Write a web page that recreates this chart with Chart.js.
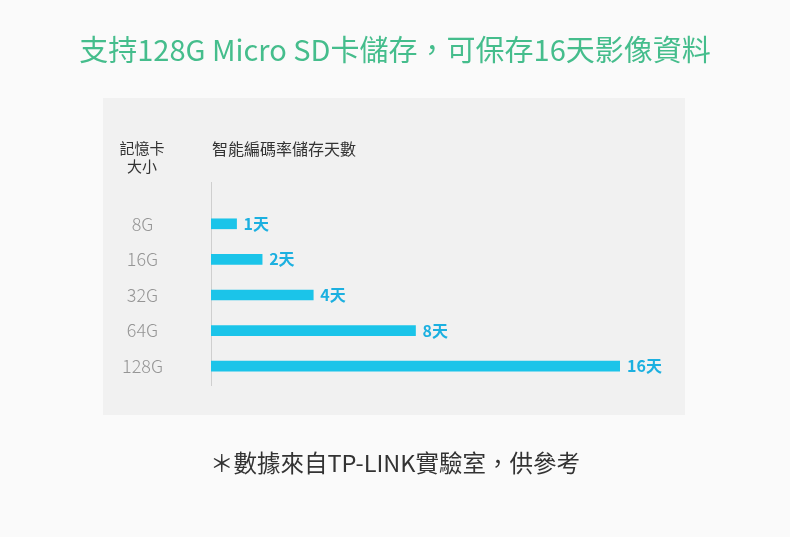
<!DOCTYPE html>
<html><head><meta charset="utf-8">
<script src="https://cdn.jsdelivr.net/npm/chart.js@4"></script>
<style>
html,body{margin:0;padding:0;background:#fafafa;width:790px;height:537px;overflow:hidden;font-family:"Noto Sans CJK TC","Noto Sans",sans-serif;}
#wrap{position:relative;width:790px;height:537px;}
canvas{position:absolute;left:0;top:0;}
.t{position:absolute;white-space:nowrap;}
#title{left:0;width:790px;top:28px;text-align:center;font-size:29px;color:#45bd8c;line-height:40px;}
#hdrL{left:100px;width:84px;top:139px;text-align:center;font-size:15px;color:#333;line-height:18px;}
#hdrR{left:212px;top:139px;font-size:16px;color:#333;line-height:18px;}
#foot{left:0;width:790px;top:447px;text-align:center;font-size:23.5px;color:#333;line-height:30px;}
</style></head>
<body><div id="wrap">
<canvas id="c" width="790" height="537"></canvas>
<div class="t" id="title">支持128G Micro SD卡儲存，可保存16天影像資料</div>
<div class="t" id="hdrL">記憶卡<br>大小</div>
<div class="t" id="hdrR">智能編碼率儲存天數</div>
<div class="t" id="foot">＊數據來自TP-LINK實驗室，供參考</div>
</div>
<script>
const categories = ["8G", "16G", "32G", "64G", "128G"];
const days = [1, 2, 4, 8, 16];
const dayLabels = ["1天", "2天", "4天", "8天", "16天"];

const panelPlugin = {
  id: 'panel',
  beforeDraw(chart) {
    const ctx = chart.ctx;
    ctx.save();
    ctx.fillStyle = '#f1f1f1';
    ctx.fillRect(103, 98, 582, 317);
    ctx.restore();
  },
  beforeDatasetsDraw(chart) {
    const ctx = chart.ctx, a = chart.chartArea;
    ctx.save();
    ctx.strokeStyle = '#cfcfcf';
    ctx.lineWidth = 1;
    ctx.beginPath();
    ctx.moveTo(a.left + 0.5, a.top - 24);
    ctx.lineTo(a.left + 0.5, a.bottom + 2);
    ctx.stroke();
    ctx.restore();
  },
  afterDatasetsDraw(chart) {
    const ctx = chart.ctx;
    const meta = chart.getDatasetMeta(0);
    ctx.save();
    ctx.fillStyle = '#1cb0e0';
    ctx.font = 'bold 16px "Noto Sans CJK TC", "Noto Sans", sans-serif';
    ctx.textBaseline = 'middle';
    ctx.textAlign = 'left';
    meta.data.forEach((bar, i) => {
      ctx.fillText(dayLabels[i], bar.x + 7, bar.y);
    });
    ctx.restore();
  }
};

new Chart(document.getElementById('c'), {
  type: 'bar',
  data: {
    labels: categories,
    datasets: [{
      data: days,
      backgroundColor: '#1bc4e9',
      borderWidth: 0,
      barThickness: 10
    }]
  },
  options: {
    indexAxis: 'y',
    responsive: false,
    animation: false,
    devicePixelRatio: 1,
    layout: { padding: { left: 111, right: 170, top: 206, bottom: 153 } },
    plugins: { legend: { display: false }, tooltip: { enabled: false }, title: { display: false } },
    scales: {
      x: { display: false, min: 0, max: 16 },
      y: {
        grid: { display: false, drawTicks: false },
        border: { display: false },
        afterFit(scale) { scale.width = 100; },
        ticks: {
          crossAlign: 'center',
          padding: 48,
          color: '#959595',
          font: { family: '"Noto Sans CJK TC", "Noto Sans", sans-serif', size: 18, weight: 300 }
        }
      }
    }
  },
  plugins: [panelPlugin]
});
</script>
</body></html>
